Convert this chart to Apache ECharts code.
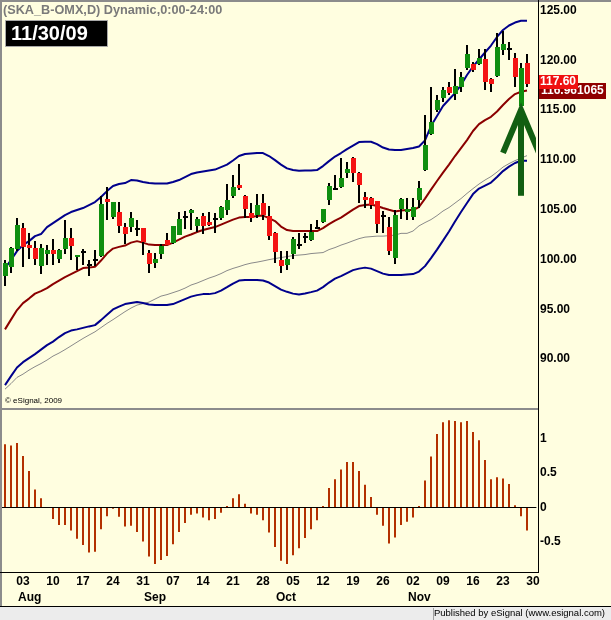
<!DOCTYPE html>
<html>
<head>
<meta charset="utf-8">
<title>SKA_B-OMX daily</title>
<script src="https://cdn.jsdelivr.net/npm/echarts@6/dist/echarts.min.js"></script>
<style>
  html, body { margin: 0; padding: 0; background: #fffee0; }
  #main { width: 611px; height: 620px; }
</style>
</head>
<body>
<div id="main"></div>
<script>
// trading days shown on the x axis (last one has no bar yet)
var dates = [
  '2009-07-29', '2009-07-30', '2009-07-31',
  '2009-08-03', '2009-08-04', '2009-08-05', '2009-08-06', '2009-08-07',
  '2009-08-10', '2009-08-11', '2009-08-12', '2009-08-13', '2009-08-14',
  '2009-08-17', '2009-08-18', '2009-08-19', '2009-08-20', '2009-08-21',
  '2009-08-24', '2009-08-25', '2009-08-26', '2009-08-27', '2009-08-28',
  '2009-08-31', '2009-09-01', '2009-09-02', '2009-09-03', '2009-09-04',
  '2009-09-07', '2009-09-08', '2009-09-09', '2009-09-10', '2009-09-11',
  '2009-09-14', '2009-09-15', '2009-09-16', '2009-09-17', '2009-09-18',
  '2009-09-21', '2009-09-22', '2009-09-23', '2009-09-24', '2009-09-25',
  '2009-09-28', '2009-09-29', '2009-09-30', '2009-10-01', '2009-10-02',
  '2009-10-05', '2009-10-06', '2009-10-07', '2009-10-08', '2009-10-09',
  '2009-10-12', '2009-10-13', '2009-10-14', '2009-10-15', '2009-10-16',
  '2009-10-19', '2009-10-20', '2009-10-21', '2009-10-22', '2009-10-23',
  '2009-10-26', '2009-10-27', '2009-10-28', '2009-10-29', '2009-10-30',
  '2009-11-02', '2009-11-03', '2009-11-04', '2009-11-05', '2009-11-06',
  '2009-11-09', '2009-11-10', '2009-11-11', '2009-11-12', '2009-11-13',
  '2009-11-16', '2009-11-17', '2009-11-18', '2009-11-19', '2009-11-20',
  '2009-11-23', '2009-11-24', '2009-11-25', '2009-11-26', '2009-11-27',
  '2009-11-30'
];

// daily candles
var openP = [
  98.3, 99.3, 101.1, 103.2, 101.5, 101.2, 99.4, 100.6, 101.0, 100.1,
  101.1, 102.2, 100.35, 100.85, 99.55, 100.1, 100.35, 106.05, 104.3, 104.8,
  103.25, 103.3, 103.2, 103.15, 100.7, 99.7, 100.6, 102.0, 101.7, 102.5,
  104.4, 104.7, 103.35, 104.35, 103.75, 104.15, 104.15, 104.95, 106.35, 107.5,
  106.4, 104.7, 104.45, 105.7, 104.4, 102.7, 99.95, 99.5, 100.6, 101.6,
  102.4, 101.95, 103.3, 103.75, 105.95, 107.2, 107.3, 108.65, 110.15, 108.65,
  106.3, 106.2, 105.85, 104.45, 103.3, 100.2, 105.05, 104.8, 104.25, 105.95,
  109.0, 112.6, 115.0, 116.2, 117.35, 116.6, 117.35, 119.2, 119.6, 119.6,
  120.1, 118.1, 118.4, 121.05, 121.2, 120.2, 115.4, 119.7
];
var highP = [
  100.0, 101.3, 104.2, 103.7, 102.7, 101.9, 101.6, 101.5, 102.1, 101.1,
  104.0, 103.2, 100.5, 101.05, 100.0, 101.0, 106.4, 107.25, 105.8, 105.75,
  103.7, 104.8, 104.0, 103.2, 101.0, 100.7, 101.55, 102.7, 103.4, 104.8,
  104.9, 105.05, 104.3, 104.7, 104.8, 104.65, 105.4, 107.55, 108.5, 109.6,
  106.45, 105.65, 106.55, 106.55, 105.4, 102.8, 100.85, 100.85, 102.3, 102.65,
  102.65, 103.55, 103.95, 105.1, 107.65, 108.5, 110.15, 109.8, 110.25, 108.75,
  106.8, 106.25, 105.9, 104.9, 104.3, 104.95, 106.15, 106.15, 106.15, 107.9,
  114.5, 117.3, 116.5, 117.35, 117.8, 119.1, 118.85, 121.5, 119.85, 121.1,
  121.1, 118.2, 122.7, 122.95, 121.85, 120.7, 119.7, 120.6
];
var lowP = [
  97.3, 98.6, 100.9, 99.3, 100.1, 99.5, 98.5, 99.5, 99.5, 99.7,
  100.6, 100.0, 99.0, 99.5, 98.3, 99.4, 100.3, 104.0, 104.1, 102.7,
  101.6, 102.8, 102.35, 100.45, 98.6, 99.2, 100.1, 101.45, 101.55, 102.45,
  103.05, 102.95, 102.8, 102.55, 103.35, 102.7, 104.0, 104.45, 106.15, 106.95,
  104.15, 103.8, 104.15, 103.95, 102.0, 99.65, 98.6, 98.95, 100.1, 101.1,
  101.7, 101.9, 103.2, 103.65, 105.45, 106.95, 107.2, 108.15, 107.8, 105.65,
  105.15, 105.05, 102.65, 102.65, 100.45, 99.6, 104.05, 103.95, 103.95, 105.15,
  108.9, 112.5, 114.8, 115.85, 116.5, 116.0, 116.85, 119.0, 118.85, 119.5,
  117.0, 116.85, 118.35, 120.55, 120.05, 117.3, 115.3, 117.35
];
var closeP = [
  99.7, 101.2, 103.5, 101.3, 101.2, 100.1, 101.2, 101.0, 100.6, 101.0,
  102.2, 101.4, 100.5, 100.85, 99.55, 100.1, 105.55, 105.75, 105.75, 103.35,
  102.55, 104.2, 103.2, 101.8, 99.6, 100.05, 101.35, 101.5, 103.35, 104.05,
  104.4, 105.0, 104.05, 103.35, 103.45, 104.15, 105.3, 105.95, 107.25, 107.2,
  105.05, 104.15, 105.45, 104.45, 102.4, 100.8, 99.35, 100.05, 102.05, 101.6,
  102.4, 102.8, 103.3, 105.05, 107.4, 107.2, 108.15, 109.05, 108.7, 107.5,
  105.95, 105.45, 103.55, 104.45, 100.85, 104.45, 106.05, 105.05, 105.3, 107.15,
  111.5, 113.85, 116.0, 117.0, 116.7, 117.4, 118.35, 120.6, 119.0, 120.2,
  117.85, 117.6, 121.35, 121.6, 121.2, 118.3, 119.25, 117.6
];

// price study lines
var upperBand = [
  99.14, 99.95, 100.85, 101.45, 101.85, 102.35, 102.56, 103.26, 103.66, 104.06,
  104.46, 104.77, 104.97, 105.17, 105.47, 105.77, 106.27, 106.87, 107.38, 107.58,
  107.68, 107.98, 107.93, 107.78, 107.68, 107.63, 107.63, 107.63, 107.78, 107.98,
  108.28, 108.58, 108.73, 108.83, 108.93, 109.03, 109.28, 109.53, 109.94, 110.39,
  110.59, 110.64, 110.69, 110.69, 110.39, 109.98, 109.53, 109.15, 108.98, 108.91,
  108.93, 108.93, 108.98, 109.38, 109.88, 110.34, 110.69, 111.09, 111.44, 111.79,
  111.82, 111.82, 111.59, 111.24, 111.04, 110.99, 110.99, 111.09, 111.19, 111.35,
  111.95, 113.40, 114.40, 115.41, 116.06, 116.71, 117.52, 118.52, 119.37, 120.08,
  120.78, 121.48, 122.34, 123.04, 123.49, 123.79, 123.97, 123.97
];
var lowerBand = [
  87.40, 88.30, 89.17, 89.70, 90.11, 90.51, 90.96, 91.41, 91.76, 92.22,
  92.62, 92.87, 92.99, 93.14, 93.29, 93.42, 93.92, 94.47, 94.99, 95.28,
  95.53, 95.63, 95.73, 95.63, 95.48, 95.43, 95.43, 95.43, 95.53, 95.78,
  96.03, 96.28, 96.43, 96.53, 96.53, 96.63, 96.88, 97.23, 97.59, 97.89,
  97.94, 97.94, 97.94, 97.89, 97.69, 97.34, 96.98, 96.76, 96.58, 96.50,
  96.60, 96.73, 96.88, 97.23, 97.69, 98.09, 98.34, 98.64, 98.94, 99.09,
  99.19, 99.09, 98.84, 98.59, 98.44, 98.44, 98.44, 98.49, 98.54, 98.79,
  99.34, 100.15, 101.00, 101.90, 102.81, 103.81, 104.77, 105.67, 106.57, 107.12,
  107.43, 107.73, 108.28, 108.88, 109.33, 109.69, 109.92, 109.92
];
var midAvg = [
  92.99, 93.97, 94.93, 95.63, 96.08, 96.58, 96.83, 97.13, 97.54, 97.89,
  98.24, 98.54, 98.84, 99.14, 99.19, 99.27, 99.90, 100.60, 101.10, 101.27,
  101.40, 101.70, 101.85, 101.70, 101.50, 101.45, 101.45, 101.45, 101.70, 102.00,
  102.30, 102.51, 102.76, 102.96, 103.11, 103.26, 103.51, 103.76, 104.01, 104.21,
  104.28, 104.26, 104.36, 104.41, 104.16, 103.86, 103.31, 102.96, 102.86, 102.86,
  102.86, 102.86, 102.86, 103.16, 103.56, 103.91, 104.21, 104.61, 105.01, 105.37,
  105.47, 105.52, 105.37, 105.17, 104.99, 104.82, 104.92, 104.97, 104.97, 105.27,
  106.12, 107.02, 107.88, 108.73, 109.53, 110.39, 111.19, 111.99, 112.90, 113.60,
  114.00, 114.33, 114.86, 115.51, 116.11, 116.61, 116.84, 116.961065
];
var slowAvg = [
  86.99, 87.55, 88.17, 88.50, 88.90, 89.25, 89.56, 89.91, 90.31, 90.61,
  90.96, 91.33, 91.71, 92.08, 92.42, 92.75, 93.17, 93.59, 93.97, 94.37,
  94.77, 95.13, 95.43, 95.58, 95.73, 96.03, 96.33, 96.48, 96.68, 96.88,
  97.13, 97.44, 97.64, 97.89, 98.14, 98.34, 98.59, 98.89, 99.11, 99.29,
  99.49, 99.64, 99.74, 99.86, 99.99, 100.10, 100.20, 100.30, 100.40, 100.45,
  100.50, 100.60, 100.65, 100.70, 101.00, 101.20, 101.45, 101.65, 101.88, 102.10,
  102.25, 102.30, 102.35, 102.35, 102.40, 102.45, 102.63, 102.63, 102.86, 103.38,
  103.71, 104.01, 104.41, 104.87, 105.22, 105.67, 106.12, 106.64, 107.12, 107.58,
  107.98, 108.33, 108.78, 109.28, 109.63, 109.93, 110.18, 110.43
];

// lower pane oscillator
var oscillator = [
  0.92, 0.90, 0.94, 0.75, 0.53, 0.26, 0.13, 0.0, -0.17, -0.26,
  -0.26, -0.34, -0.46, -0.55, -0.66, -0.65, -0.32, -0.13, -0.02, -0.14,
  -0.28, -0.27, -0.36, -0.50, -0.72, -0.83, -0.77, -0.71, -0.54, -0.36,
  -0.23, -0.11, -0.09, -0.15, -0.19, -0.17, -0.08, 0.02, 0.13, 0.19,
  0.05, -0.09, -0.11, -0.19, -0.37, -0.58, -0.78, -0.83, -0.70, -0.60,
  -0.45, -0.32, -0.19, 0.02, 0.28, 0.41, 0.55, 0.66, 0.66, 0.53,
  0.33, 0.15, -0.11, -0.27, -0.53, -0.44, -0.26, -0.21, -0.15, 0.02,
  0.39, 0.74, 1.07, 1.24, 1.27, 1.26, 1.24, 1.26, 1.10, 0.98,
  0.69, 0.41, 0.44, 0.42, 0.34, 0.03, -0.13, -0.34
];

// right axis tick labels
var priceTicks = [90, 95, 100, 105, 110, 115, 120, 125];
var oscTicks = [-0.5, 0, 0.5, 1];
var monthNames = ['Jan', 'Feb', 'Mar', 'Apr', 'May', 'Jun', 'Jul', 'Aug', 'Sep', 'Oct', 'Nov', 'Dec'];

// hand drawn arrow: [day index, tip, tail, wing end]
var arrowMark = [[86, 115.0, 106.4, 110.7]];
var arrowSpread = 3;

var titleText = '(SKA_B-OMX,D) Dynamic,0:00-24:00';
var upColor = '#0f8f0f';
var downColor = '#f41414';
var fontFam = '"Liberation Sans", Arial, sans-serif';

var candleData = closeP.map(function (c, i) {
  return [i, openP[i], c, lowP[i], highP[i]];
});

function renderCandle(params, api) {
  var i = api.value(0);
  var o = api.value(1), c = api.value(2), lo = api.value(3), hi = api.value(4);
  var pH = api.coord([i, hi]);
  var pL = api.coord([i, lo]);
  var yO = api.coord([i, o])[1];
  var yC = api.coord([i, c])[1];
  var cx = Math.round(pH[0]);
  var top = Math.round(Math.min(yO, yC));
  var bot = Math.round(Math.max(yO, yC));
  if (bot - top < 2) bot = top + 2;
  var fill = c > o ? upColor : (c < o ? downColor : '#000');
  var yH = Math.round(pH[1]), yL = Math.round(pL[1]);
  return {
    type: 'group',
    children: [
      { type: 'rect', shape: { x: cx - 1, y: yH, width: 2, height: Math.max(yL - yH, 1) }, style: { fill: '#000' } },
      { type: 'rect', shape: { x: cx - 2, y: top, width: 5, height: bot - top }, style: { fill: fill } }
    ]
  };
}

function renderArrow(params, api) {
  var i = api.value(0);
  var tip = api.coord([i, api.value(1)]);
  var tail = api.coord([i, api.value(2)]);
  var left = api.coord([i - arrowSpread, api.value(3)]);
  var right = api.coord([i + arrowSpread, api.value(3)]);
  var st = { stroke: '#125f12', lineWidth: 6, fill: null, lineJoin: 'miter', lineCap: 'butt' };
  return {
    type: 'group',
    children: [
      { type: 'line', shape: { x1: tip[0], y1: tip[1] + 4, x2: tail[0], y2: tail[1] }, style: st },
      { type: 'polyline', shape: { points: [left, tip, right] }, style: st }
    ]
  };
}

function isMonday(index, value) {
  return new Date(value + 'T00:00:00Z').getUTCDay() === 1;
}
function isMonthStart(index, value) {
  return index > 0 && value.slice(5, 7) !== dates[index - 1].slice(5, 7);
}

var labelFont = { color: '#000', fontWeight: 'bold', fontSize: 12, fontFamily: fontFam };

var chart = echarts.init(document.getElementById('main'));
chart.setOption({
  animation: false,
  backgroundColor: '#fffee0',
  textStyle: { fontFamily: fontFam },
  grid: [
    { left: 2, top: 2, width: 534, height: 406 },
    { left: 2, top: 410, width: 534, height: 162 }
  ],
  xAxis: [
    {
      gridIndex: 0, type: 'category', data: dates, boundaryGap: true,
      axisLine: { show: false }, axisTick: { show: false }, axisLabel: { show: false }
    },
    {
      gridIndex: 1, type: 'category', data: dates, boundaryGap: true,
      axisLine: { lineStyle: { color: '#000', width: 1 } },
      axisTick: { show: false },
      axisLabel: Object.assign({
        interval: isMonday,
        margin: 4,
        formatter: function (v) { return v.slice(8, 10); }
      }, labelFont)
    },
    {
      // month names under the day numbers
      gridIndex: 1, type: 'category', data: dates, boundaryGap: true, position: 'bottom', offset: 16,
      axisLine: { show: false }, axisTick: { show: false },
      axisLabel: Object.assign({
        interval: isMonthStart,
        margin: 4,
        align: 'left',
        padding: [0, 0, 0, -5],
        formatter: function (v) { return monthNames[parseInt(v.slice(5, 7), 10) - 1]; }
      }, labelFont)
    }
  ],
  yAxis: [
    {
      gridIndex: 0, type: 'value', position: 'right', min: 85.1, max: 125.85,
      splitLine: { show: false }, axisLine: { show: false }, axisTick: { show: false },
      axisLabel: Object.assign({
        customValues: priceTicks, margin: 4,
        formatter: function (v) { return v.toFixed(2); }
      }, labelFont)
    },
    {
      gridIndex: 1, type: 'value', position: 'right', min: -0.945, max: 1.42,
      splitLine: { show: false }, axisLine: { show: false }, axisTick: { show: false },
      axisLabel: Object.assign({
        customValues: oscTicks, margin: 4,
        formatter: function (v) { return String(v); }
      }, labelFont)
    }
  ],
  series: [
    {
      name: 'gray avg', type: 'line', xAxisIndex: 0, yAxisIndex: 0, data: slowAvg,
      showSymbol: false, lineStyle: { color: '#8a8a8a', width: 1 }, z: 2
    },
    {
      name: 'upper', type: 'line', xAxisIndex: 0, yAxisIndex: 0, data: upperBand,
      showSymbol: false, lineStyle: { color: '#00008c', width: 2 }, z: 2
    },
    {
      name: 'lower', type: 'line', xAxisIndex: 0, yAxisIndex: 0, data: lowerBand,
      showSymbol: false, lineStyle: { color: '#00008c', width: 2 }, z: 2
    },
    {
      name: 'mid', type: 'line', xAxisIndex: 0, yAxisIndex: 0, data: midAvg,
      showSymbol: false, lineStyle: { color: '#8b0000', width: 2 }, z: 2
    },
    {
      name: 'price', type: 'custom', xAxisIndex: 0, yAxisIndex: 0, data: candleData,
      renderItem: renderCandle, encode: { x: 0, y: [1, 2, 3, 4] }, z: 3
    },
    {
      name: 'arrow', type: 'custom', xAxisIndex: 0, yAxisIndex: 0, data: arrowMark,
      renderItem: renderArrow, clip: true, z: 4
    },
    {
      name: 'osc', type: 'bar', xAxisIndex: 1, yAxisIndex: 1, data: oscillator,
      barWidth: 2, itemStyle: { color: '#b33000' },
      markLine: {
        silent: true, symbol: 'none', label: { show: false },
        lineStyle: { color: '#000', width: 1, type: 'solid' },
        data: [{ yAxis: 0 }]
      }
    }
  ]
});

// pieces that sit around the plot: frame, title, date box, last value tags
var lastClose = closeP[closeP.length - 1];
var lastMid = midAvg[midAvg.length - 1];
var yClose = chart.convertToPixel({ yAxisIndex: 0 }, lastClose);
var yMid = chart.convertToPixel({ yAxisIndex: 0 }, lastMid);
var lastDay = dates[dates.length - 1];
var dateLabel = lastDay.slice(5, 7) + '/' + lastDay.slice(8, 10) + '/' + lastDay.slice(2, 4);

function txt(text, x, y, font, fill, align) {
  return {
    type: 'text', z: 100,
    style: {
      text: text, x: x, y: y, font: font, fill: fill,
      align: align || 'left', verticalAlign: 'middle',
      textAlign: align || 'left', textVerticalAlign: 'middle'
    }
  };
}
function box(x, y, w, h, fill, z) {
  return { type: 'rect', z: z || 100, shape: { x: x, y: y, width: w, height: h }, style: { fill: fill } };
}

chart.setOption({
  graphic: [
    box(0, 0, 611, 2, '#8c8c8c'),
    box(0, 0, 2, 606, '#8c8c8c'),
    box(0, 408, 538, 2, '#8c8c8c'),
    box(538, 0, 1, 573, '#000'),
    box(0, 572, 538, 1, '#000'),
    box(0, 606, 611, 1, '#000'),
    box(0, 607, 611, 13, '#ececec'),
    box(433, 608, 1, 12, '#a0a0a0'),
    txt('Published by eSignal (www.esignal.com)', 605, 613, '9.5px ' + fontFam, '#000', 'right'),
    txt(titleText, 3, 10, 'bold 12.7px ' + fontFam, '#7a7a7a'),
    {
      type: 'rect', z: 100, shape: { x: 5.5, y: 20.5, width: 102, height: 26 },
      style: { fill: '#000', stroke: '#a8a8a8', lineWidth: 1 }
    },
    txt(dateLabel, 11, 34, 'bold 20px ' + fontFam, '#fff'),
    txt('\u00a9 eSignal, 2009', 5, 401, '8px ' + fontFam, '#000'),
    box(539, Math.round(yMid) - 8, 67, 16, '#900000', 101),
    Object.assign(txt(lastMid.toFixed(6), 541, Math.round(yMid), 'bold 12px ' + fontFam, '#fff'), { z: 101 }),
    box(539, Math.round(yClose) - 9, 39, 14, '#f01010', 102),
    Object.assign(txt(lastClose.toFixed(2), 540, Math.round(yClose) - 2, 'bold 12px ' + fontFam, '#fff'), { z: 102 })
  ]
});
</script>
</body>
</html>
